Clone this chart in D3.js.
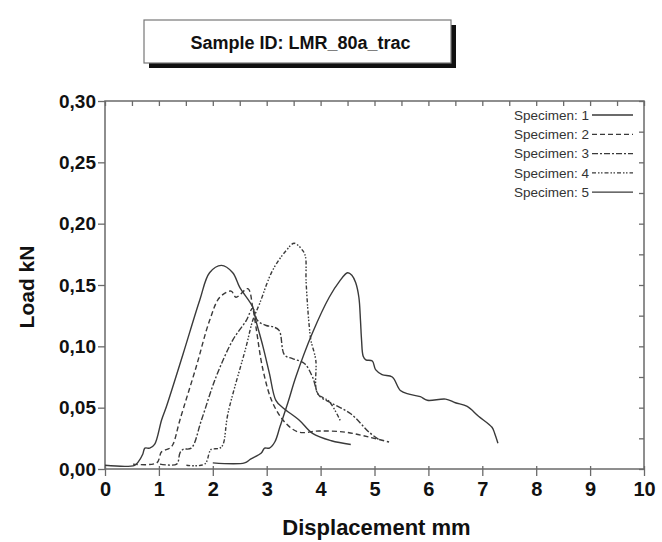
<!DOCTYPE html>
<html>
<head>
<meta charset="utf-8">
<script src="https://cdn.jsdelivr.net/npm/d3@7"></script>
<style>
  body { margin: 0; background: #fff; }
  svg { font-family: "Liberation Sans", Arial, sans-serif; }
</style>
</head>
<body>
<div id="chart"></div>
<script>
// Data
const specimenNames = ["Specimen: 1", "Specimen: 2", "Specimen: 3", "Specimen: 4", "Specimen: 5"];

const spec1X = [0, 0.55, 0.62, 0.70, 0.74, 0.83, 0.92, 1.05, 1.14, 1.45, 1.76, 1.94, 2.16, 2.37, 2.50, 2.74, 2.80, 2.93, 3.05, 3.17, 3.30, 3.60, 3.85, 4.20, 4.56];
const spec1Y = [0.003, 0.003, 0.006, 0.012, 0.017, 0.017, 0.020, 0.040, 0.051, 0.094, 0.138, 0.160, 0.166, 0.160, 0.148, 0.132, 0.121, 0.100, 0.078, 0.056, 0.050, 0.040, 0.029, 0.023, 0.020];

const spec2X = [0.52, 0.96, 1.05, 1.20, 1.26, 1.39, 1.69, 1.94, 2.13, 2.34, 2.43, 2.65, 2.74, 2.80, 2.93, 3.11, 3.36, 3.60, 3.97, 4.47, 4.90, 5.27];
const spec2Y = [0.004, 0.005, 0.014, 0.017, 0.020, 0.040, 0.083, 0.121, 0.140, 0.145, 0.140, 0.147, 0.132, 0.116, 0.081, 0.054, 0.037, 0.030, 0.031, 0.030, 0.026, 0.022];

const spec3X = [1.02, 1.33, 1.39, 1.45, 1.60, 1.79, 2.06, 2.37, 2.62, 2.74, 2.83, 2.99, 3.11, 3.23, 3.33, 3.48, 3.70, 3.85, 3.97, 4.19, 4.56, 4.90, 5.08];
const spec3Y = [0.004, 0.004, 0.013, 0.016, 0.017, 0.040, 0.075, 0.105, 0.121, 0.131, 0.121, 0.117, 0.116, 0.113, 0.093, 0.090, 0.086, 0.075, 0.060, 0.054, 0.045, 0.030, 0.024];

const spec4X = [1.51, 1.85, 1.94, 1.97, 2.13, 2.19, 2.28, 2.62, 2.74, 2.87, 3.11, 3.36, 3.51, 3.67, 3.72, 3.73, 3.76, 3.79, 3.82, 3.91, 3.94, 4.16, 4.37];
const spec4Y = [0.003, 0.004, 0.014, 0.016, 0.017, 0.020, 0.045, 0.100, 0.121, 0.135, 0.162, 0.178, 0.184, 0.178, 0.173, 0.154, 0.132, 0.116, 0.105, 0.089, 0.062, 0.055, 0.039];

const spec5X = [2.00, 2.59, 2.70, 2.90, 2.96, 3.05, 3.15, 3.25, 3.40, 3.54, 3.85, 4.16, 4.35, 4.50, 4.58, 4.65, 4.71, 4.74, 4.76, 4.79, 4.84, 4.96, 5.02, 5.14, 5.33, 5.48, 5.64, 5.85, 5.98, 6.32, 6.50, 6.72, 6.93, 7.18, 7.23, 7.29];
const spec5Y = [0.005, 0.005, 0.008, 0.013, 0.017, 0.017, 0.022, 0.035, 0.055, 0.075, 0.111, 0.140, 0.153, 0.160, 0.158, 0.152, 0.140, 0.121, 0.105, 0.092, 0.089, 0.088, 0.081, 0.077, 0.075, 0.064, 0.061, 0.059, 0.056, 0.057, 0.054, 0.051, 0.043, 0.034, 0.029, 0.021];

const xTicks = [0, 1, 2, 3, 4, 5, 6, 7, 8, 9, 10];
const yTicks = [0, 0.05, 0.10, 0.15, 0.20, 0.25, 0.30];
const yTickLabels = ["0,00", "0,05", "0,10", "0,15", "0,20", "0,25", "0,30"];

const titleText = "Sample ID: LMR_80a_trac";
const xLabel = "Displacement mm";
const yLabel = "Load kN";

// layout
const W = 662, H = 542;
const margin = { top: 101, right: 18, bottom: 73, left: 105 };
const width = W - margin.left - margin.right;
const height = H - margin.top - margin.bottom;

const lineColor = "#3a3a3a";
const axisColor = "#6a6a6a";
const dashes = [null, "5,3", "6,2,2,2", "4,2,1.5,1.5,1.5,2", null];

const series = [
    [spec1X, spec1Y], [spec2X, spec2Y], [spec3X, spec3Y], [spec4X, spec4Y], [spec5X, spec5Y]
].map(([xs, ys], i) => ({
    name: specimenNames[i],
    dash: dashes[i],
    values: xs.map((x, j) => ({ x: x, y: ys[j] }))
}));

const svg = d3.select("#chart").append("svg")
    .attr("width", W)
    .attr("height", H);

// title box with drop shadow
const box = { x: 144, y: 20, w: 307, h: 43 };
svg.append("rect")
    .attr("x", box.x + 5).attr("y", box.y + 5)
    .attr("width", box.w).attr("height", box.h)
    .attr("fill", "#111");
svg.append("rect")
    .attr("x", box.x).attr("y", box.y)
    .attr("width", box.w).attr("height", box.h)
    .attr("fill", "#fff")
    .attr("stroke", "#777")
    .attr("stroke-width", 1.2);
svg.append("text")
    .attr("x", box.x + box.w / 2 + 3)
    .attr("y", box.y + 29)
    .attr("text-anchor", "middle")
    .style("font-size", "18px")
    .style("font-weight", "bold")
    .attr("fill", "#111")
    .text(titleText);

const g = svg.append("g")
    .attr("transform", `translate(${margin.left},${margin.top})`);

const x = d3.scaleLinear().domain([0, 10]).range([0, width]);
const y = d3.scaleLinear().domain([0, 0.30]).range([height, 0]);

// frame
g.append("rect")
    .attr("width", width).attr("height", height)
    .attr("fill", "none")
    .attr("stroke", axisColor)
    .attr("stroke-width", 1.5);

const xMinor = d3.range(0, 10.01, 0.5);
const yMinor = d3.range(0, 0.3001, 0.025);

// bottom axis
const gx = g.append("g")
    .attr("transform", `translate(0,${height})`)
    .call(d3.axisBottom(x).tickValues(xMinor).tickSize(5).tickFormat(""));
gx.call(d3.axisBottom(x).tickValues(xTicks).tickSize(7).tickFormat(d3.format("d")));
gx.selectAll(".domain").remove();
gx.selectAll("line").attr("stroke", axisColor).attr("stroke-width", 1.3).attr("y1", -3);
gx.selectAll("text")
    .style("font-size", "20px")
    .style("font-weight", "bold")
    .attr("fill", "#111")
    .attr("dy", "0.85em");

// left axis
const gy = g.append("g")
    .call(d3.axisLeft(y).tickValues(yMinor).tickSize(5).tickFormat(""));
gy.call(d3.axisLeft(y).tickValues(yTicks).tickSize(7)
    .tickFormat((d, i) => yTickLabels[i]));
gy.selectAll(".domain").remove();
gy.selectAll("line").attr("stroke", axisColor).attr("stroke-width", 1.3);
gy.selectAll("text")
    .style("font-size", "19px")
    .style("font-weight", "bold")
    .attr("fill", "#111")
    .attr("x", -9);

// top and right inner ticks
const gt = g.append("g")
    .call(d3.axisTop(x).tickValues(xMinor).tickSize(-5).tickFormat(""));
gt.selectAll(".domain").remove();
gt.selectAll("line").attr("stroke", axisColor).attr("stroke-width", 1.3);

const gr = g.append("g")
    .attr("transform", `translate(${width},0)`)
    .call(d3.axisRight(y).tickValues(yMinor).tickSize(-5).tickFormat(""));
gr.selectAll(".domain").remove();
gr.selectAll("line").attr("stroke", axisColor).attr("stroke-width", 1.3);

// axis labels
svg.append("text")
    .attr("x", margin.left + width / 2 + 2)
    .attr("y", 535)
    .attr("text-anchor", "middle")
    .style("font-size", "22px")
    .style("font-weight", "bold")
    .attr("fill", "#111")
    .text(xLabel);

svg.append("text")
    .attr("transform", `translate(34,${margin.top + height / 2 + 2}) rotate(-90)`)
    .attr("text-anchor", "middle")
    .style("font-size", "21px")
    .style("font-weight", "bold")
    .attr("fill", "#111")
    .text(yLabel);

// curves
const line = d3.line()
    .x(d => x(d.x))
    .y(d => y(d.y))
    .curve(d3.curveCatmullRom.alpha(0.5));

g.selectAll(".specimen")
    .data(series)
    .enter().append("path")
    .attr("class", "specimen")
    .attr("d", d => line(d.values))
    .attr("fill", "none")
    .attr("stroke", lineColor)
    .attr("stroke-width", 1.4)
    .attr("stroke-dasharray", d => d.dash);

// legend
const legend = g.append("g")
    .attr("transform", `translate(${width - 55},14)`);
const rows = legend.selectAll(".row")
    .data(series)
    .enter().append("g")
    .attr("class", "row")
    .attr("transform", (d, i) => `translate(0,${i * 19.3})`);
rows.append("text")
    .attr("text-anchor", "end")
    .attr("dy", "0.35em")
    .style("font-size", "13.5px")
    .attr("fill", "#333")
    .text(d => d.name);
rows.append("line")
    .attr("x1", 3).attr("x2", 44)
    .attr("stroke", lineColor)
    .attr("stroke-width", 1.3)
    .attr("stroke-dasharray", d => d.dash);
</script>
</body>
</html>
